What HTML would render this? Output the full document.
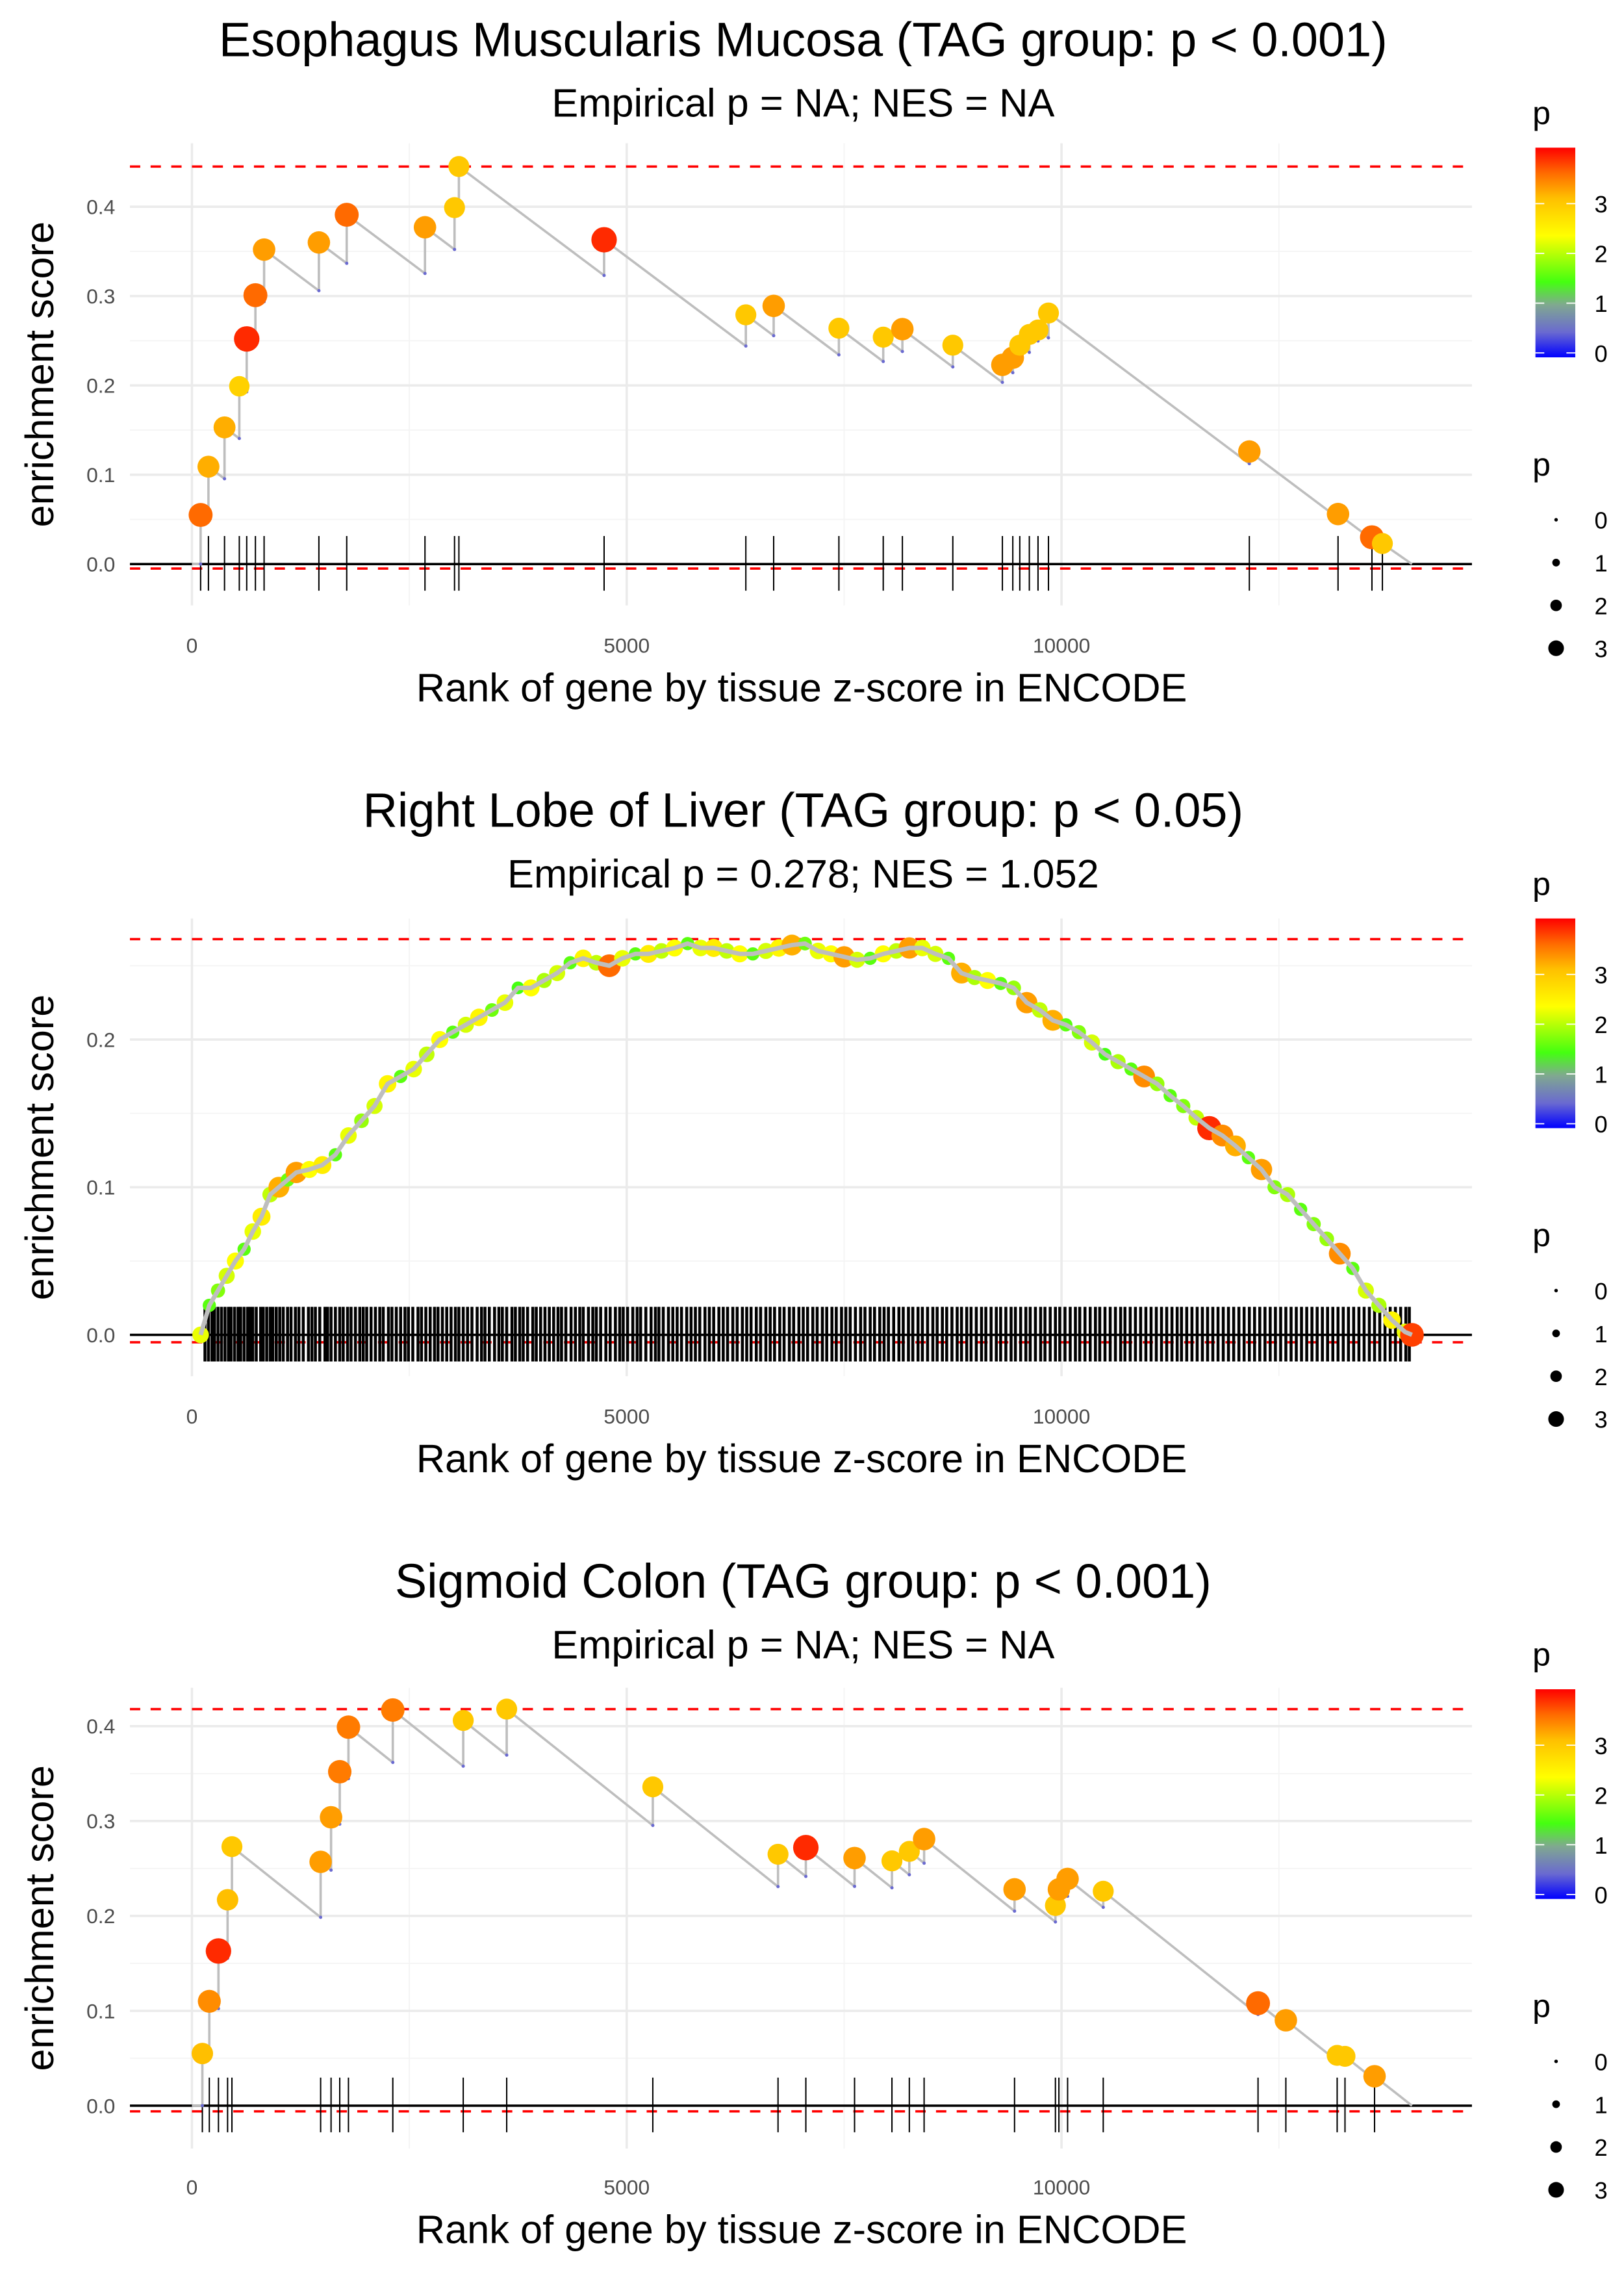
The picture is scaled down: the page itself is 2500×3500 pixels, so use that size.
<!DOCTYPE html>
<html><head><meta charset="utf-8">
<style>
html,body{margin:0;padding:0;background:#fff;}
svg{display:block;font-family:"Liberation Sans",Arial,sans-serif;}
</style></head>
<body>
<svg id="chart" xmlns="http://www.w3.org/2000/svg" width="2500" height="3500" viewBox="0 0 1100 1540">
<defs>
<linearGradient id="pgrad" x1="0" y1="1" x2="0" y2="0">
<stop offset="0" stop-color="#0000ff"/>
<stop offset="0.12" stop-color="#6a6ad0"/>
<stop offset="0.25" stop-color="#80a890"/>
<stop offset="0.36" stop-color="#44ff10"/>
<stop offset="0.58" stop-color="#ffff00"/>
<stop offset="0.76" stop-color="#ffbf00"/>
<stop offset="0.88" stop-color="#ff6a00"/>
<stop offset="1" stop-color="#ff0000"/>
</linearGradient>
</defs>
<rect x="0" y="0" width="1100" height="1540" fill="#fff"/>
</svg>
<script>
// ---------- Panel 1 data: Esophagus Muscularis Mucosa ----------
const ranks1 = [100,190,375,545,630,730,830,1460,1780,2680,3020,3070,4740,6370,6690,7440,7950,8170,8750,9320,9440,9520,9630,9730,9850,12160,13180,13570,13690];
const es1 = [0.055,0.109,0.153,0.199,0.252,0.301,0.352,0.360,0.391,0.377,0.399,0.445,0.363,0.279,0.289,0.264,0.254,0.263,0.245,0.223,0.231,0.245,0.257,0.262,0.281,0.126,0.056,0.030,0.023];
const p1 = [3.6,3.2,3.2,2.9,3.9,3.6,3.3,3.3,3.6,3.3,3.0,3.0,3.9,3.0,3.3,3.0,3.0,3.3,3.0,3.3,3.3,3.0,3.0,3.0,3.0,3.3,3.3,3.6,3.0];

// ---------- Panel 2 data: Right Lobe of Liver ----------
const ranks2 = [100,200,300,400,500,600,700,800,900,1000,1100,1200,1350,1500,1650,1800,1950,2100,2250,2400,2550,2700,2850,3000,3150,3300,3450,3600,3750,3900,4050,4200,4350,4500,4650,4800,4950,5100,5250,5400,5550,5700,5850,6000,6150,6300,6450,6600,6750,6900,7050,7200,7350,7500,7650,7800,7950,8100,8250,8400,8550,8700,8850,9000,9150,9300,9450,9600,9750,9900,10050,10200,10350,10500,10650,10800,10950,11100,11250,11400,11550,11700,11850,12000,12150,12300,12450,12600,12750,12900,13050,13200,13350,13500,13650,13800,13950,14030];
const es2 = [0.0,0.02,0.03,0.04,0.05,0.058,0.07,0.08,0.095,0.10,0.105,0.11,0.112,0.115,0.122,0.135,0.145,0.155,0.17,0.175,0.18,0.19,0.2,0.205,0.21,0.215,0.22,0.225,0.235,0.235,0.24,0.245,0.252,0.255,0.252,0.25,0.255,0.258,0.258,0.26,0.262,0.265,0.262,0.262,0.26,0.258,0.258,0.26,0.262,0.264,0.265,0.26,0.258,0.256,0.254,0.255,0.258,0.26,0.262,0.262,0.258,0.255,0.245,0.242,0.24,0.238,0.235,0.225,0.22,0.213,0.21,0.205,0.198,0.19,0.185,0.18,0.175,0.17,0.162,0.155,0.147,0.14,0.135,0.128,0.12,0.112,0.1,0.095,0.085,0.075,0.065,0.055,0.045,0.03,0.02,0.01,0.002,0.0];
const p2 = [2.3,1.6,1.8,2.2,2.4,1.6,2.3,2.6,2.1,3.2,1.7,3.3,2.4,2.6,1.6,2.3,1.9,2.2,2.5,1.6,2.3,2.1,2.4,1.6,2.2,2.5,1.7,2.3,1.5,2.4,2.0,2.2,1.6,2.5,2.1,3.6,2.3,1.6,2.6,2.1,2.4,1.6,2.3,2.6,2.1,2.4,1.6,2.2,2.5,3.2,1.7,2.3,2.4,3.3,2.2,1.6,2.4,2.1,3.3,2.3,2.2,1.6,3.2,2.0,2.4,1.6,1.9,3.3,2.1,3.2,1.6,1.8,2.2,1.5,2.0,1.6,3.4,1.9,1.6,1.8,2.1,3.9,3.4,3.2,1.6,3.3,1.8,2.0,1.6,1.8,1.9,3.4,1.6,2.2,2.0,2.5,2.3,3.8];
const rug2 = [150,190,230,260,300,340,380,420,450,490,530,560,600,640,670,700,740,790,820,860,900,930,970,1010,1050,1100,1140,1190,1230,1280,1340,1380,1420,1470,1530,1560,1600,1650,1700,1740,1790,1830,1880,1930,1970,2010,2060,2110,2160,2200,2260,2300,2350,2400,2450,2490,2540,2600,2640,2690,2740,2790,2830,2880,2930,2980,3030,3070,3120,3170,3220,3280,3330,3370,3420,3480,3530,3570,3620,3680,3720,3770,3810,3860,3920,3960,4010,4060,4110,4160,4210,4250,4300,4360,4410,4460,4500,4560,4610,4650,4700,4760,4810,4870,4920,4960,5010,5070,5120,5160,5220,5280,5330,5370,5420,5480,5530,5580,5630,5690,5740,5790,5840,5900,5950,6000,6060,6110,6160,6220,6270,6330,6380,6430,6490,6540,6600,6650,6700,6760,6810,6870,6920,6980,7030,7080,7140,7190,7250,7300,7360,7410,7470,7520,7570,7630,7690,7740,7800,7850,7910,7960,8010,8070,8130,8180,8240,8290,8350,8400,8460,8520,8570,8630,8680,8740,8800,8850,8910,8960,9020,9080,9130,9190,9250,9300,9360,9420,9470,9530,9590,9640,9700,9760,9810,9870,9930,9980,10040,10100,10160,10210,10270,10330,10390,10440,10500,10560,10620,10680,10730,10790,10850,10910,10970,11030,11090,11150,11210,11270,11330,11380,11440,11500,11560,11620,11680,11740,11800,11860,11920,11980,12040,12100,12160,12220,12280,12340,12400,12460,12520,12580,12640,12700,12760,12820,12880,12940,13000,13060,13120,13180,13240,13300,13360,13420,13480,13540,13600,13660,13720,13780,13840,13900,13960,14000];

// ---------- Panel 3 data: Sigmoid Colon ----------
const ranks3 = [120,200,305,410,460,1480,1600,1700,1800,2310,3120,3620,5300,6740,7060,7620,8050,8250,8420,9460,9930,9970,10070,10480,12260,12580,13170,13260,13600];
const es3 = [0.055,0.110,0.163,0.217,0.273,0.257,0.304,0.352,0.399,0.417,0.406,0.418,0.336,0.265,0.272,0.261,0.258,0.268,0.281,0.228,0.211,0.228,0.239,0.226,0.108,0.090,0.053,0.052,0.031];
const p3 = [3.1,3.4,3.9,3.1,3.0,3.3,3.3,3.5,3.5,3.5,3.0,3.0,3.0,3.0,3.9,3.3,3.0,3.0,3.3,3.3,3.0,3.3,3.3,3.0,3.6,3.3,3.0,3.0,3.3];

const xTicks = [0,5000,10000];
const legendTicks = [0,1,2,3];
const NS = 'http://www.w3.org/2000/svg';
const svg = document.getElementById('chart');

const N_GENES = 14030;
const xs = r => 130 + r * 0.0589;
const X_LEFT = 88, X_RIGHT = 997;

function el(tag, attrs, parent, text) {
  const e = document.createElementNS(NS, tag);
  for (const k in attrs) e.setAttribute(k, attrs[k]);
  if (text !== undefined) e.textContent = text;
  (parent || svg).appendChild(e);
  return e;
}
function lerp(a,b,t){return a+(b-a)*t;}
const cstops = [[0,[0,0,255]],[0.5,[106,106,208]],[1,[128,168,144]],[1.5,[68,255,16]],[2.4,[255,255,0]],[3.1,[255,191,0]],[3.6,[255,106,0]],[4.1,[255,0,0]]];
function pcol(p){
  for (let i=1;i<cstops.length;i++){
    if (p<=cstops[i][0]){
      const a=cstops[i-1], b=cstops[i], t=(p-a[0])/(b[0]-a[0]);
      return 'rgb('+[0,1,2].map(j=>Math.round(lerp(a[1][j],b[1][j],t))).join(',')+')';
    }
  }
  return 'rgb(255,0,0)';
}
const prad = p => 2 + 1.7 * p;

const panels = [
  {off:0, title:'Esophagus Muscularis Mucosa (TAG group: p < 0.001)', sub:'Empirical p = NA; NES = NA', y0:382, k:605, top:97, bottom:410, yt:[0,0.1,0.2,0.3,0.4], ymin:[0.05,0.15,0.25,0.35], max:0.445, min:-0.005, ranks:ranks1, es:es1, p:p1, rug:ranks1, step:true},
  {off:522, title:'Right Lobe of Liver (TAG group: p < 0.05)', sub:'Empirical p = 0.278; NES = 1.052', y0:904, k:1000, top:622, bottom:932, yt:[0,0.1,0.2], ymin:[0.05,0.15,0.25], max:0.268, min:-0.005, ranks:ranks2, es:es2, p:p2, rug:rug2, step:false},
  {off:1044, title:'Sigmoid Colon (TAG group: p < 0.001)', sub:'Empirical p = NA; NES = NA', y0:1426, k:642.5, top:1143, bottom:1455, yt:[0,0.1,0.2,0.3,0.4], ymin:[0.05,0.15,0.25,0.35], max:0.418, min:-0.006, ranks:ranks3, es:es3, p:p3, rug:ranks3, step:true}
];

panels.forEach((P, pi) => {
  const g = el('g', {}, svg);
  
  
  const ys = v => P.y0 - v * P.k;
  const o = P.off;

  const t = el('text', {x:544, y:38+o, 'text-anchor':'middle', 'font-size':32.5, fill:'#000'}, g, P.title);
  
  
  const s = el('text', {x:544, y:79+o, 'text-anchor':'middle', 'font-size':27, fill:'#000'}, g, P.sub);
  
  

  // grid
  P.ymin.forEach(v => { const l = el('line', {x1:X_LEFT, x2:X_RIGHT, y1:ys(v), y2:ys(v), stroke:'#f4f4f4', 'stroke-width':0.8}, g);
      });
  [2500,7500,12500].forEach(v => { const l = el('line', {x1:xs(v), x2:xs(v), y1:P.top, y2:P.bottom, stroke:'#f4f4f4', 'stroke-width':0.8}, g);
      });
  P.yt.forEach(v => {
    const l = el('line', {x1:X_LEFT, x2:X_RIGHT, y1:ys(v), y2:ys(v), stroke:'#ebebeb', 'stroke-width':1.6}, g);
     
    const tl = el('text', {x:78, y:ys(v)+5, 'text-anchor':'end', 'font-size':14, fill:'#4d4d4d'}, g, v.toFixed(1));
     
  });
  xTicks.forEach(v => {
    const l = el('line', {x1:xs(v), x2:xs(v), y1:P.top, y2:P.bottom, stroke:'#ebebeb', 'stroke-width':1.6}, g);
     
    const tl = el('text', {x:xs(v), y:442+o, 'text-anchor':'middle', 'font-size':14, fill:'#4d4d4d'}, g, String(v));
     
  });

  // dashed lines
  [P.max, P.min].forEach((v,i) => {
    const l = el('line', {x1:X_LEFT, x2:X_RIGHT, y1:ys(v), y2:ys(v), stroke:'#ff0000', 'stroke-width':1.6, 'stroke-dasharray':'7,7'}, g);
    
    
  });

  // rug
  const rg = el('g', {}, g);
   
  P.rug.forEach(r => {
    const l = el('line', {x1:xs(r), x2:xs(r), y1:P.y0-19, y2:P.y0+18, stroke:'#000', 'stroke-width': P.step ? 0.9 : 2}, rg);
     
  });
  const zl = el('line', {x1:X_LEFT, x2:X_RIGHT, y1:P.y0, y2:P.y0, stroke:'#000', 'stroke-width':1.6}, g);
   

  // running ES line
  const slope = 7.3e-5;
  let d = '';
  const bottoms = [];
  if (P.step) {
    let prevR = 0, prevE = 0;
    d = 'M' + xs(0) + ',' + ys(0);
    P.ranks.forEach((r,i) => {
      const b = Math.max(0, prevE - slope*(r-prevR));
      bottoms.push([r,b]);
      d += ' L' + xs(r) + ',' + ys(b) + ' L' + xs(r) + ',' + ys(P.es[i]);
      prevR = r; prevE = P.es[i];
    });
    d += ' L' + xs(N_GENES) + ',' + ys(0);
  } else {
    P.ranks.forEach((r,i) => { d += (i? ' L':'M') + xs(r) + ',' + ys(P.es[i]); });
  }
  const drawLine = () => {
    const pl = el('path', {d:d, fill:'none', stroke:'#bebebe', 'stroke-width': P.step ? 1.6 : 3, 'stroke-linejoin':'round'}, g);
     
  };
  if (P.step) drawLine();
  bottoms.forEach(b => {
    const c = el('circle', {cx:xs(b[0]), cy:ys(b[1]), r:1.1, fill:'#6a6ad0'}, g);
     
  });
  P.ranks.forEach((r,i) => {
    const c = el('circle', {cx:xs(r), cy:ys(P.es[i]), r: P.step ? prad(P.p[i]) : prad(P.p[i])*0.95, fill:pcol(P.p[i])}, g);
     
  });
  if (!P.step) drawLine();

  // axis titles
  const xt = el('text', {x:543, y:475+o, 'text-anchor':'middle', 'font-size':27, fill:'#000'}, g, 'Rank of gene by tissue z-score in ENCODE');
   
  const yc = (P.top + P.bottom)/2;
  const yt = el('text', {x:0, y:0, 'text-anchor':'middle', 'font-size':27, fill:'#000', transform:'translate(36,'+yc+') rotate(-90)'}, g, 'enrichment score');
   

  // colour legend
  const lg = el('g', {}, g);
   
  const lt = el('text', {x:1038, y:84+o, 'font-size':22, fill:'#000'}, lg, 'p');
   
  const bar = el('rect', {x:1040, y:100+o, width:27, height:142, fill:'url(#pgrad)'}, lg);
   
  const lbY = v => 239 + o - v*33.7;
  legendTicks.forEach(v => {
    el('line', {x1:1040, x2:1046, y1:lbY(v), y2:lbY(v), stroke:'#fff', 'stroke-width':0.8}, lg);
    el('line', {x1:1061, x2:1067, y1:lbY(v), y2:lbY(v), stroke:'#fff', 'stroke-width':0.8}, lg);
    const tl = el('text', {x:1080, y:lbY(v)+6, 'font-size':16, fill:'#000'}, lg, String(v));
     
  });

  // size legend
  const sg = el('g', {}, g);
   
  const st = el('text', {x:1038, y:322+o, 'font-size':22, fill:'#000'}, sg, 'p');
   
  const sizes = [1.2, 2.6, 3.9, 5.3];
  legendTicks.forEach((v,i) => {
    const cy = 352 + o + i*29;
    const c = el('circle', {cx:1054, cy:cy, r:sizes[i], fill:'#000'}, sg);
     
    const tl = el('text', {x:1080, y:cy+6, 'font-size':16, fill:'#000'}, sg, String(v));
     
  });
});
</script>
</body></html>
